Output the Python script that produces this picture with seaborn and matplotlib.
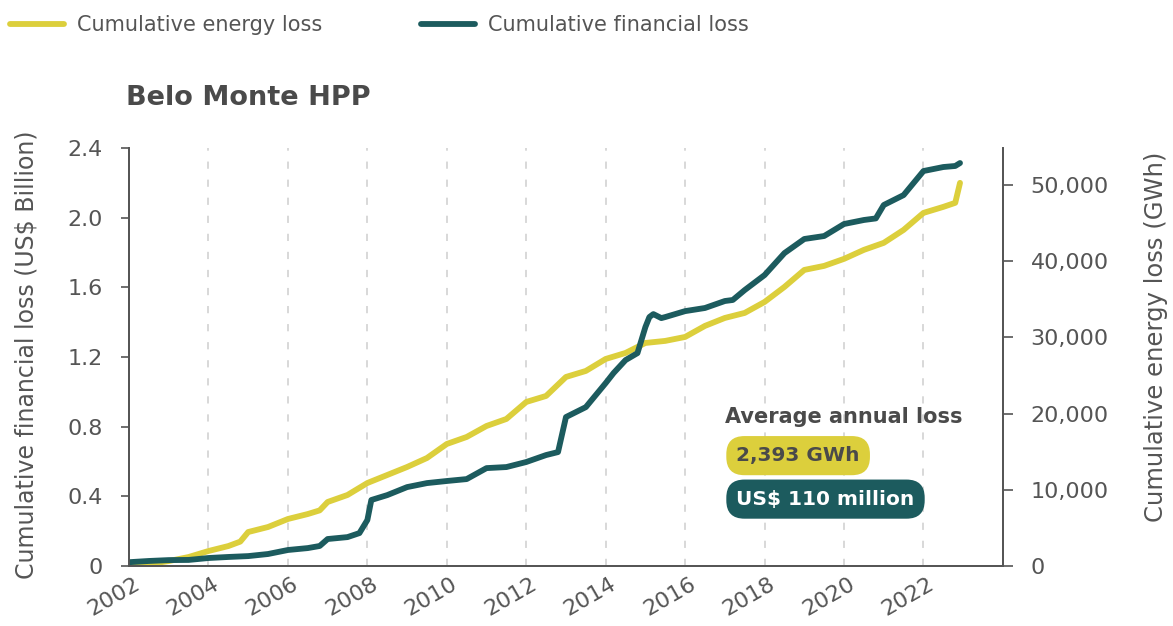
import matplotlib
matplotlib.use('Agg')
import matplotlib.pyplot as plt
import matplotlib.transforms as mtransforms
import seaborn as sns

sns.set_style('white')
plt.rcParams['font.family'] = ['DejaVu Sans']

# data
years_energy = [2002.0, 2002.5, 2003.0, 2003.5, 2004.0, 2004.5, 2004.8, 2005.0, 2005.5, 2006.0,
                2006.5, 2006.8, 2007.0, 2007.5, 2008.0, 2008.5, 2009.0, 2009.5, 2010.0, 2010.5,
                2011.0, 2011.5, 2012.0, 2012.5, 2013.0, 2013.5, 2014.0, 2014.5, 2015.0, 2015.5,
                2016.0, 2016.5, 2017.0, 2017.5, 2018.0, 2018.5, 2019.0, 2019.5, 2020.0, 2020.5,
                2021.0, 2021.5, 2022.0, 2022.5, 2022.8, 2022.92]
energy_gwh = [0, 260, 650, 1180, 1970, 2620, 3200, 4460, 5120, 6170,
              6820, 7300, 8400, 9320, 10890, 11940, 12990, 14170, 16010, 16930,
              18370, 19290, 21520, 22310, 24800, 25590, 27160, 27950, 29260, 29530,
              30050, 31500, 32540, 33200, 34640, 36610, 38840, 39370, 40290, 41470,
              42390, 44090, 46320, 47110, 47640, 50260]

years_fin = [2002.0, 2002.5, 2003.0, 2003.5, 2004.0, 2004.5, 2005.0, 2005.5, 2006.0, 2006.5,
             2006.8, 2007.0, 2007.5, 2007.8, 2008.0, 2008.1, 2008.5, 2009.0, 2009.5, 2010.0,
             2010.5, 2011.0, 2011.5, 2012.0, 2012.5, 2012.8, 2013.0, 2013.5, 2014.0, 2014.2,
             2014.5, 2014.8, 2015.0, 2015.1, 2015.2, 2015.4, 2015.5, 2016.0, 2016.5, 2017.0,
             2017.2, 2017.5, 2018.0, 2018.5, 2019.0, 2019.5, 2020.0, 2020.5, 2020.8, 2021.0,
             2021.5, 2022.0, 2022.5, 2022.8, 2022.92]
financial_bn = [0.022, 0.029, 0.034, 0.035, 0.046, 0.052, 0.057, 0.069, 0.092, 0.103,
                0.115, 0.155, 0.166, 0.189, 0.264, 0.379, 0.407, 0.453, 0.476, 0.488,
                0.499, 0.562, 0.568, 0.597, 0.637, 0.654, 0.855, 0.912, 1.050, 1.108,
                1.182, 1.222, 1.372, 1.429, 1.446, 1.423, 1.429, 1.463, 1.481, 1.521,
                1.527, 1.584, 1.670, 1.796, 1.877, 1.894, 1.963, 1.986, 1.995, 2.072,
                2.129, 2.267, 2.290, 2.296, 2.313]

tick_years = list(range(2002, 2024, 2))
fin_ticks = [0, 0.4, 0.8, 1.2, 1.6, 2.0, 2.4]
fin_labels = ['0', '0.4', '0.8', '1.2', '1.6', '2.0', '2.4']
energy_ticks = [0, 10000, 20000, 30000, 40000, 50000]
energy_labels = ['0', '10,000', '20,000', '30,000', '40,000', '50,000']

yellow = '#DCCF3C'
teal = '#1C5B5E'
grey = '#555555'

fig = plt.figure(figsize=(11.73, 6.26), dpi=100)
ax = fig.add_axes([0.110, 0.0958, 0.745, 0.668])   # energy, axis on the right
ax2 = ax.twinx()                                   # financial, axis on the left

ax.yaxis.tick_right()
ax.yaxis.set_label_position('right')
ax2.yaxis.tick_left()
ax2.yaxis.set_label_position('left')

sns.lineplot(x=years_energy, y=energy_gwh, ax=ax, color=yellow, lw=4.2,
             solid_capstyle='round', legend=False)
sns.lineplot(x=years_fin, y=financial_bn, ax=ax2, color=teal, lw=4.2,
             solid_capstyle='round', legend=False)

ax.set_xlim(2002, 2024)
ax.set_ylim(0, 54850)
ax2.set_ylim(0, 2.4)

ax.set_xticks(tick_years)
ax.set_xticklabels([str(y) for y in tick_years])
ax.set_yticks(energy_ticks)
ax.set_yticklabels(energy_labels)
ax2.set_yticks(fin_ticks)
ax2.set_yticklabels(fin_labels)

ax.grid(axis='x', color='#d6d6d6', linestyle=(0, (4, 6)), lw=1.3)
ax.grid(axis='y', visible=False)

for a in (ax, ax2):
    a.spines['top'].set_visible(False)
    for s in ('left', 'right', 'bottom'):
        a.spines[s].set_color(grey)
        a.spines[s].set_linewidth(1.3)

ax.tick_params(axis='x', length=0, pad=11.5, labelsize=16, labelcolor=grey)
ax.tick_params(axis='y', length=7, width=1.2, color=grey, pad=13,
               labelsize=16, labelcolor=grey)
ax2.tick_params(axis='y', length=6, width=1.2, color=grey, pad=13,
                labelsize=16, labelcolor=grey)

shift = mtransforms.ScaledTranslation(9 / 100, 0, fig.dpi_scale_trans)
for lab in ax.get_xticklabels():
    lab.set_rotation(30)
    lab.set_rotation_mode('anchor')
    lab.set_ha('right')
    lab.set_va('center')
    lab.set_transform(lab.get_transform() + shift)

ax2.set_ylabel('Cumulative financial loss (US$ Billion)', fontsize=17, color=grey)
ax2.yaxis.set_label_coords(-0.104, 0.505)
ax.set_ylabel('Cumulative energy loss (GWh)', fontsize=17.5, color=grey)
ax.yaxis.set_label_coords(1.162, 0.547)

fig.text(0.107, 0.843, 'Belo Monte HPP', fontsize=19.5, fontweight='bold',
         color='#4a4a4a', va='center', ha='left')

ax.text(0.682, 0.356, 'Average annual loss', transform=ax.transAxes, fontsize=15,
        fontweight='bold', color='#4a4a4a', va='center', ha='left')
ax.text(0.695, 0.264, '2,393 GWh', transform=ax.transAxes, fontsize=14.5,
        fontweight='bold', color='#4a4a4a', va='center', ha='left',
        bbox=dict(boxstyle='round,pad=0.5,rounding_size=0.9', fc=yellow, ec='none'))
ax.text(0.695, 0.160, 'US$ 110 million', transform=ax.transAxes, fontsize=14.5,
        fontweight='bold', color='white', va='center', ha='left',
        bbox=dict(boxstyle='round,pad=0.5,rounding_size=0.9', fc=teal, ec='none'))

handles = [ax.get_lines()[0], ax2.get_lines()[0]]
leg = fig.legend(handles, ['Cumulative energy loss', 'Cumulative financial loss'],
                 loc='center left', bbox_to_anchor=(10 / 1173, 1 - 25 / 626), ncol=2,
                 frameon=False, fontsize=15, handlelength=2.6, handletextpad=0.6,
                 columnspacing=4.75, borderpad=0, borderaxespad=0, labelcolor=grey)

fig.savefig('out.png', dpi=100, facecolor='white')
